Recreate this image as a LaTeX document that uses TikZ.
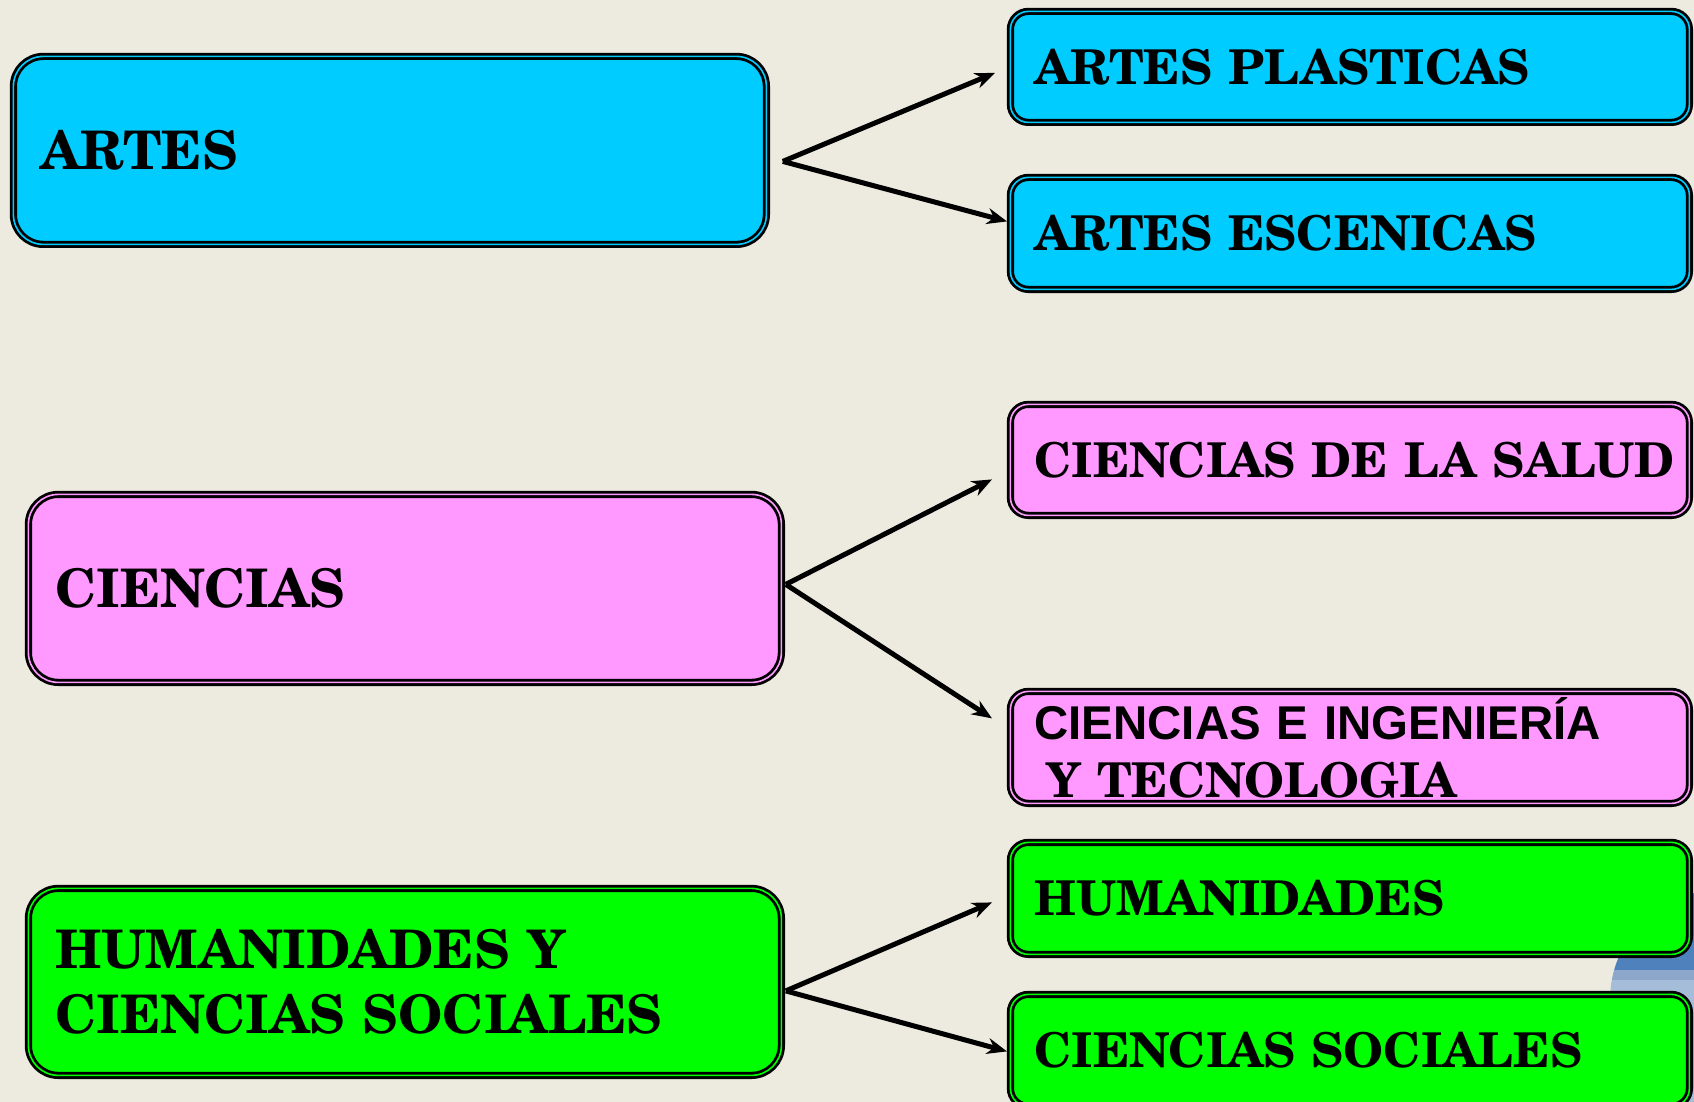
\documentclass[tikz,border=0pt]{standalone}
\usepackage{fontspec}
\newfontfamily\arialb{Liberation Sans}
\newfontfamily\scholabf{TeX Gyre Schola Bold}
\usetikzlibrary{arrows.meta}
\definecolor{bg}{RGB}{237,234,224}
\definecolor{cy}{RGB}{0,204,255}
\definecolor{pk}{RGB}{255,153,255}
\definecolor{gr}{RGB}{0,255,0}
\definecolor{bdark}{RGB}{79,129,189}
\definecolor{bmid}{RGB}{140,167,202}
\definecolor{blight}{RGB}{166,189,217}
\tikzset{
  boxbase/.style={draw=black, line width=1.4pt, double distance=0.8pt, anchor=north west, align=left, inner ysep=0pt},
  bigbox/.style={boxbase, rounded corners=15pt, inner xsep=13.5pt, text width=349.5pt, minimum height=94pt,
    font=\scholabf\fontsize{26.6pt}{32.5pt}\selectfont},
  smallbox/.style={boxbase, rounded corners=9pt, inner xsep=12pt, text width=315.5pt, minimum height=56pt,
    font=\scholabf\fontsize{24pt}{29pt}\selectfont},
  arr/.style={line width=2.5pt, -{Stealth[length=10pt,width=8pt]}}
}
\begin{document}
\begin{tikzpicture}[x=0.5pt,y=-0.5pt]
\useasboundingbox (0,0) rectangle (1694,1102);
\fill[bg] (0,0) rectangle (1694,1102);
% decorative circle
\begin{scope}
\clip (1720,1000) circle (110);
\fill[bdark] (1590,880) rectangle (1700,970);
\fill[bmid] (1590,970) rectangle (1700,980);
\fill[blight] (1590,980) rectangle (1700,1120);
\end{scope}
% left boxes
\node[bigbox, fill=cy, double=cy] (artes) at (12,55) {ARTES};
\node[bigbox, fill=pk, double=pk] (cien) at (27,493) {CIENCIAS};
\node[bigbox, fill=gr, double=gr, minimum height=93.5pt] (hum) at (27,887) {HUMANIDADES Y\\CIENCIAS SOCIALES};
% right boxes
\node[smallbox, fill=cy, double=cy, minimum height=55.5pt] (ap) at (1009,10) {ARTES PLASTICAS};
\node[smallbox, fill=cy, double=cy] (ae) at (1009,176) {ARTES ESCENICAS};
\node[smallbox, fill=pk, double=pk, minimum height=55.5pt] (cs) at (1009,403) {\mbox{CIENCIAS DE LA SALUD}};
\node[smallbox, fill=pk, double=pk] (cei) at (1009,690) {{\arialb\bfseries\fontsize{23.7pt}{29pt}\selectfont CIENCIAS E INGENIERÍA}\\\hspace*{6pt}Y TECNOLOGIA};
\node[smallbox, fill=gr, double=gr] (hu) at (1009,841) {HUMANIDADES};
\node[smallbox, fill=gr, double=gr] (cso) at (1009,993) {CIENCIAS SOCIALES};
% connectors
\coordinate (a0) at ([shift={(15,11)}]artes.east);
\coordinate (c0) at ([shift={(3,-4)}]cien.east);
\coordinate (h0) at ([shift={(3,9)}]hum.east);
\draw[arr] (a0) -- ([shift={(-14,6)}]ap.west);
\draw[arr] (a0) -- ([shift={(-2,-12)}]ae.west);
\draw[arr] (c0) -- ([shift={(-17,19.5)}]cs.west);
\draw[arr] (c0) -- ([shift={(-17,-29)}]cei.west);
\draw[arr] (h0) -- ([shift={(-17,4)}]hu.west);
\draw[arr] (h0) -- ([shift={(-2,1)}]cso.west);
\end{tikzpicture}
\end{document}
